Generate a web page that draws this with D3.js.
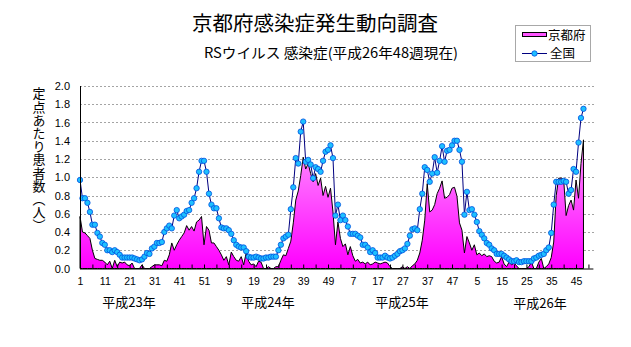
<!DOCTYPE html>
<html>
<head>
<meta charset="utf-8">
<script src="https://cdn.jsdelivr.net/npm/d3@7"></script>
<style>
  html, body { margin: 0; padding: 0; background: #fff; }
  svg { display: block; }
  .jp { font-family: "Noto Sans CJK JP", "Noto Sans", sans-serif; }
  .num { font-family: "Liberation Sans", Arial, sans-serif; }
  .vert { writing-mode: vertical-rl; }
</style>
</head>
<body>
<svg id="chart" width="631" height="347"></svg>
<script>
// ---- data ----
const title = "京都府感染症発生動向調査";
const subtitle = "RSウイルス 感染症(平成26年48週現在)";
const yAxisTitle = "定点あたり患者数（人）";
const seriesNames = ["京都府", "全国"];
const years = ["平成23年", "平成24年", "平成25年", "平成26年"];
const weeksInYear = [52, 52, 52, 48];   // weeks plotted per year
const axisWeeksTotal = 208;             // category slots on the x axis
const yTicks = [0, 0.2, 0.4, 0.6, 0.8, 1.0, 1.2, 1.4, 1.6, 1.8, 2.0];

// 全国 (national) per-week values
const national = [
  0.97,0.77,0.77,0.72,0.62,0.48,0.48,0.39,0.35,0.28,
  0.26,0.20,0.20,0.18,0.20,0.18,0.15,0.12,0.12,0.12,
  0.12,0.12,0.11,0.10,0.09,0.10,0.13,0.17,0.16,0.22,
  0.24,0.28,0.28,0.29,0.40,0.44,0.47,0.44,0.58,0.64,
  0.55,0.57,0.59,0.63,0.64,0.72,0.77,0.88,1.06,1.18,
  1.18,1.06,0.82,0.70,0.66,0.66,0.55,0.45,0.44,0.44,
  0.42,0.38,0.31,0.26,0.24,0.23,0.23,0.19,0.13,0.12,
  0.12,0.13,0.12,0.11,0.11,0.12,0.12,0.13,0.13,0.13,
  0.20,0.26,0.33,0.35,0.37,0.65,0.89,1.21,1.15,1.50,
  1.61,1.17,1.19,1.14,0.99,1.11,1.09,1.06,1.18,1.28,
  1.30,1.35,1.21,0.58,0.70,0.53,0.58,0.53,0.46,0.38,
  0.38,0.38,0.36,0.34,0.26,0.26,0.23,0.18,0.20,0.17,
  0.12,0.12,0.12,0.14,0.12,0.11,0.12,0.14,0.16,0.19,
  0.20,0.22,0.27,0.36,0.43,0.44,0.42,0.65,0.82,1.11,
  1.08,0.95,1.04,1.22,1.05,1.18,1.34,1.17,1.29,1.30,
  1.35,1.40,1.40,1.30,1.17,0.59,0.84,0.64,0.65,0.59,
  0.51,0.41,0.37,0.33,0.28,0.26,0.22,0.20,0.16,0.16,
  0.16,0.14,0.12,0.10,0.08,0.08,0.09,0.07,0.07,0.08,
  0.08,0.08,0.08,0.11,0.12,0.14,0.15,0.16,0.20,0.23,
  0.39,0.70,0.95,0.95,0.95,0.96,0.95,0.82,0.86,1.09,
  1.06,1.38,1.65,1.75
];

// 京都府 (Kyoto) per-week values
const kyoto = [
  0.57,0.40,0.39,0.36,0.33,0.20,0.11,0.10,0.09,0.09,
  0.07,0.04,0.08,0.00,0.09,0.02,0.07,0.06,0.07,0.04,
  0.03,0.06,0.00,0.00,0.00,0.04,0.00,0.00,0.00,0.02,
  0.04,0.04,0.04,0.03,0.09,0.08,0.15,0.28,0.20,0.26,
  0.31,0.35,0.39,0.47,0.42,0.46,0.41,0.51,0.53,0.57,
  0.26,0.46,0.42,0.28,0.28,0.24,0.20,0.15,0.09,0.13,
  0.04,0.18,0.13,0.09,0.08,0.13,0.04,0.17,0.08,0.04,
  0.05,0.02,0.08,0.07,0.00,0.00,0.02,0.00,0.00,0.02,
  0.02,0.09,0.15,0.14,0.22,0.30,0.50,0.75,0.85,1.02,
  1.22,1.09,1.15,1.04,0.95,1.04,0.91,0.99,0.80,0.90,
  0.78,0.88,0.62,0.26,0.51,0.33,0.24,0.27,0.15,0.24,
  0.14,0.08,0.10,0.06,0.07,0.05,0.07,0.04,0.05,0.07,
  0.06,0.05,0.06,0.07,0.06,0.02,0.00,0.00,0.00,0.00,
  0.02,0.00,0.02,0.00,0.03,0.05,0.09,0.17,0.31,0.53,
  0.93,0.62,0.64,0.70,0.82,0.88,0.96,0.77,0.78,0.81,
  0.88,0.89,0.79,0.50,0.42,0.17,0.35,0.28,0.20,0.26,
  0.15,0.17,0.14,0.16,0.13,0.14,0.13,0.08,0.06,0.07,
  0.13,0.05,0.02,0.07,0.04,0.06,0.03,0.00,0.00,0.00,
  0.00,0.02,0.07,0.00,0.00,0.07,0.11,0.00,0.02,0.05,
  0.12,0.29,0.80,0.99,0.99,0.98,0.58,0.69,0.75,0.64,
  0.97,0.77,1.15,1.41
];

// category labels (week numbers) built from year week counts
const weekLabels = [];
weeksInYear.forEach(n => { for (let w = 1; w <= n; w++) weekLabels.push(w); });
for (let w = weeksInYear[3] + 1; weekLabels.length < axisWeeksTotal; w++) weekLabels.push(w);

// ---- layout ----
const svg = d3.select("#chart");
const plotL = 80, plotR = 593.4, plotT = 86, plotB = 268.5;

const x = d3.scaleLinear().domain([0, axisWeeksTotal - 1]).range([plotL, plotR]);
const y = d3.scaleLinear().domain([0, 2]).range([plotB, plotT]);

// gradient for the Kyoto area
const defs = svg.append("defs");
const grad = defs.append("linearGradient")
  .attr("id", "kgrad").attr("gradientUnits", "userSpaceOnUse")
  .attr("x1", 0).attr("x2", 0).attr("y1", y(0)).attr("y2", y(2));
grad.append("stop").attr("offset", "0%").attr("stop-color", "#ff00ff");
grad.append("stop").attr("offset", "100%").attr("stop-color", "#ffd2ff");

// gridlines
svg.append("g").selectAll("line").data(yTicks.filter(v => v > 0)).join("line")
  .attr("x1", plotL).attr("x2", plotR + 1)
  .attr("y1", d => Math.round(y(d)) + 0.5).attr("y2", d => Math.round(y(d)) + 0.5)
  .attr("stroke", "#a4a4a4").attr("stroke-width", 1)
  .attr("stroke-dasharray", "2,2");

// Kyoto area
const area = d3.area()
  .x((d, i) => x(i)).y0(y(0)).y1(d => y(d));
svg.append("path").datum(kyoto)
  .attr("d", area)
  .attr("fill", "url(#kgrad)")
  .attr("stroke", "#000").attr("stroke-width", 1)
  .attr("stroke-linejoin", "miter");

// national line
const line = d3.line().x((d, i) => x(i)).y(d => y(d));
svg.append("path").datum(national)
  .attr("d", line).attr("fill", "none")
  .attr("stroke", "#000080").attr("stroke-width", 1);
svg.append("g").selectAll("circle").data(national).join("circle")
  .attr("cx", (d, i) => x(i)).attr("cy", d => y(d)).attr("r", 2.7)
  .attr("fill", "#1ec0ff").attr("stroke", "#0050e0").attr("stroke-width", 0.8);

// x axis
const xTickVals = d3.range(0, axisWeeksTotal, 5);
const xAxis = d3.axisBottom(x)
  .tickValues(xTickVals)
  .tickSizeInner(-4).tickSizeOuter(0).tickPadding(9)
  .tickFormat(i => (i % 10 === 0) ? String(weekLabels[i]) : "");
const gx = svg.append("g").attr("transform", `translate(0,${plotB})`).call(xAxis);
gx.select(".domain").attr("stroke", "#000").attr("d", `M${plotL},0.5H${plotR}`);
gx.selectAll(".tick line").attr("stroke", "#000");
gx.selectAll(".tick text").attr("class", "num").attr("font-size", 10.5).attr("fill", "#000");

// y axis
const yAxis = d3.axisLeft(y).tickValues(yTicks).tickSize(0).tickPadding(10)
  .tickFormat(d3.format(".1f"));
const gy = svg.append("g").attr("transform", `translate(${plotL},0)`).call(yAxis);
gy.select(".domain").attr("stroke", "#000").attr("d", `M0.5,${plotT}V${plotB + 0.5}`);
gy.selectAll(".tick text").attr("class", "num").attr("font-size", 11).attr("fill", "#000");

// year labels under the axis
const yearCenters = [129, 268, 402, 540];
svg.append("g").selectAll("text").data(years).join("text")
  .attr("class", "jp")
  .attr("x", (d, i) => yearCenters[i]).attr("y", (d, i) => i === 3 ? 308 : 307)
  .attr("text-anchor", "middle").attr("font-size", 13).attr("fill", "#000")
  .text(d => d);

// y axis title (vertical writing)
svg.append("text").attr("class", "jp vert")
  .attr("x", 39).attr("y", 87)
  .attr("font-size", 13).attr("fill", "#000")
  .attr("textLength", 145).attr("lengthAdjust", "spacing")
  .text(yAxisTitle);

// titles
svg.append("text").attr("class", "jp")
  .attr("x", 315).attr("y", 31).attr("text-anchor", "middle")
  .attr("font-size", 20).attr("fill", "#000")
  .attr("textLength", 246).attr("lengthAdjust", "spacingAndGlyphs")
  .text(title);
svg.append("text").attr("class", "jp")
  .attr("x", 331).attr("y", 58).attr("text-anchor", "middle")
  .attr("font-size", 14).attr("fill", "#000")
  .attr("textLength", 254).attr("lengthAdjust", "spacingAndGlyphs")
  .text(subtitle);

// legend
const lg = svg.append("g");
lg.append("rect").attr("x", 515.5).attr("y", 25.5).attr("width", 75).attr("height", 36)
  .attr("fill", "#fff").attr("stroke", "#a8a8a8").attr("stroke-width", 1);
lg.append("rect").attr("x", 522.5).attr("y", 32.5).attr("width", 24).attr("height", 4)
  .attr("fill", "#ff55ff").attr("stroke", "#000").attr("stroke-width", 1);
lg.append("text").attr("class", "jp").attr("x", 548).attr("y", 40)
  .attr("font-size", 12.5).attr("fill", "#000").text(seriesNames[0]);
lg.append("line").attr("x1", 522).attr("x2", 547).attr("y1", 53.5).attr("y2", 53.5)
  .attr("stroke", "#000080").attr("stroke-width", 1);
lg.append("circle").attr("cx", 534.5).attr("cy", 53.5).attr("r", 2.7)
  .attr("fill", "#1ec0ff").attr("stroke", "#0050e0").attr("stroke-width", 0.8);
lg.append("text").attr("class", "jp").attr("x", 550).attr("y", 58)
  .attr("font-size", 12.5).attr("fill", "#000").text(seriesNames[1]);
</script>
</body>
</html>
